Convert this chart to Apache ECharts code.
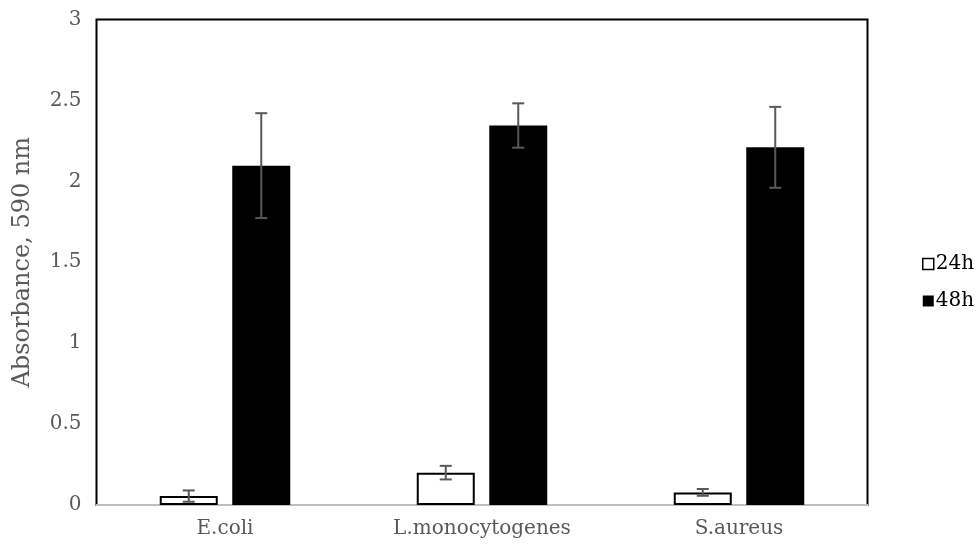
<!DOCTYPE html>
<html>
<head>
<meta charset="utf-8">
<script src="https://cdn.jsdelivr.net/npm/echarts@6/dist/echarts.min.js"></script>
<style>
  html, body { margin: 0; padding: 0; background: #fff; }
  #chart { width: 977px; height: 548px; }
</style>
</head>
<body>
<div id="chart"></div>
<script>
var categories = ['E.coli', 'L.monocytogenes', 'S.aureus'];
var values24h = [0.055, 0.20, 0.078];
var errors24h = [0.035, 0.042, 0.021];
var values48h = [2.097, 2.345, 2.21];
var errors48h = [0.324, 0.137, 0.25];
var yTicks = [0, 0.5, 1, 1.5, 2, 2.5, 3];

var FONT = 'DejaVu Serif';
var BAR_W = 58;
var BAR_GAP_PX = 14.5;
var OFFSET = (BAR_W + BAR_GAP_PX) / 2;

function errorSeries(values, errors, side) {
  return {
    type: 'custom',
    silent: true,
    z: 10,
    data: values.map(function (v, i) { return [i, v - errors[i], v + errors[i]]; }),
    encode: { x: 0, y: [1, 2] },
    renderItem: function (params, api) {
      var idx = api.value(0);
      var lo = api.coord([idx, api.value(1)]);
      var hi = api.coord([idx, api.value(2)]);
      var x = lo[0] + side * OFFSET;
      var cap = 6;
      var style = { stroke: '#595959', lineWidth: 2 };
      return {
        type: 'group',
        children: [
          { type: 'line', shape: { x1: x, y1: lo[1], x2: x, y2: hi[1] }, style: style },
          { type: 'line', shape: { x1: x - cap, y1: lo[1], x2: x + cap, y2: lo[1] }, style: style },
          { type: 'line', shape: { x1: x - cap, y1: hi[1], x2: x + cap, y2: hi[1] }, style: style }
        ]
      };
    }
  };
}

var chart = echarts.init(document.getElementById('chart'));
chart.setOption({
  backgroundColor: '#ffffff',
  animation: false,
  grid: {
    left: 96.5, right: 109.5, top: 19.5, bottom: 43,
    show: true, borderColor: '#000000', borderWidth: 2, backgroundColor: 'transparent'
  },
  legend: {
    orient: 'vertical',
    left: 917,
    top: 249,
    itemGap: 17,
    itemWidth: 11,
    itemHeight: 11,
    textStyle: { fontFamily: FONT, fontSize: 20, color: '#000000', padding: [0, 0, 0, -3] },
    data: [
      { name: '24h', icon: 'rect', itemStyle: { color: '#ffffff', borderColor: '#000000', borderWidth: 1.5 } },
      { name: '48h', icon: 'rect', itemStyle: { color: '#000000' } }
    ]
  },
  xAxis: {
    type: 'category',
    data: categories,
    axisLine: { show: true, lineStyle: { color: '#bfbfbf', width: 2 } },
    axisTick: { show: false },
    axisLabel: { fontFamily: FONT, fontSize: 20, color: '#595959', margin: 14 }
  },
  yAxis: {
    type: 'value',
    min: yTicks[0],
    max: yTicks[yTicks.length - 1],
    interval: 0.5,
    name: 'Absorbance, 590 nm',
    nameLocation: 'middle',
    nameGap: 62,
    nameTextStyle: { fontFamily: FONT, fontSize: 24, color: '#595959' },
    axisLine: { show: false },
    axisTick: { show: false },
    splitLine: { show: false },
    axisLabel: { fontFamily: FONT, fontSize: 20, color: '#595959', margin: 15 }
  },
  series: [
    {
      name: '24h', type: 'bar', data: values24h, barWidth: BAR_W, barGap: (BAR_GAP_PX / BAR_W * 100) + '%',
      itemStyle: { color: '#ffffff', borderColor: '#000000', borderWidth: 2 }
    },
    {
      name: '48h', type: 'bar', data: values48h, barWidth: BAR_W,
      itemStyle: { color: '#000000', borderColor: '#000000', borderWidth: 0 }
    },
    errorSeries(values24h, errors24h, -1),
    errorSeries(values48h, errors48h, 1)
  ]
});
</script>
</body>
</html>
